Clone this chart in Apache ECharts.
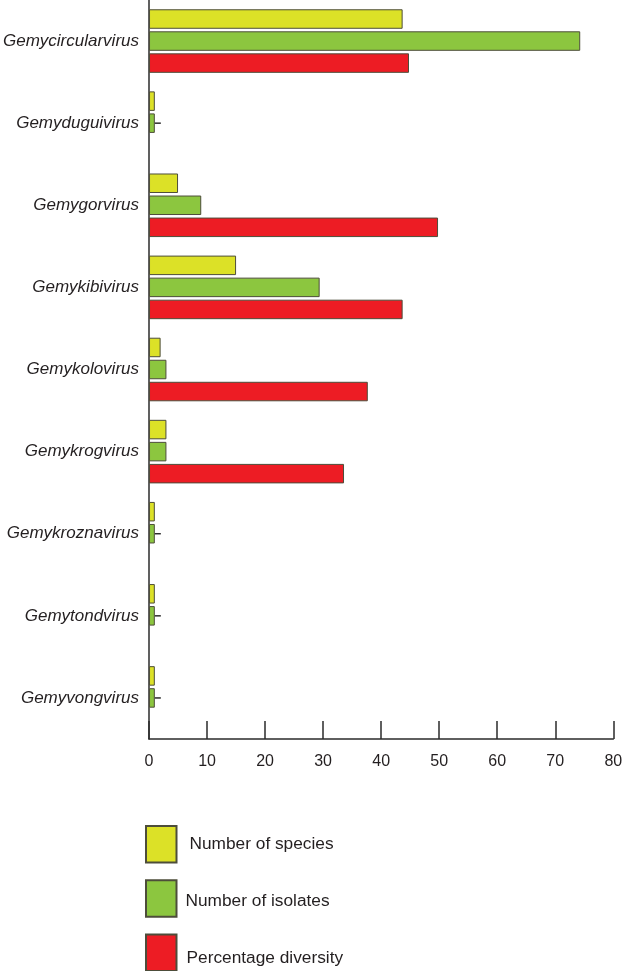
<!DOCTYPE html>
<html>
<head>
<meta charset="utf-8">
<script src="https://cdn.jsdelivr.net/npm/echarts@6/dist/echarts.min.js"></script>
<style>
html,body{margin:0;padding:0;background:#fff;}
#chart{width:631px;height:971px;}
</style>
</head>
<body>
<div id="chart"></div>
<script>
const categories = ['Gemycircularvirus','Gemyduguivirus','Gemygorvirus','Gemykibivirus','Gemykolovirus','Gemykrogvirus','Gemykroznavirus','Gemytondvirus','Gemyvongvirus'];
const numberOfSpecies = [43.7, 1, 5, 15, 2, 3, 1, 1, 1];
const numberOfIsolates = [74.3, 1, 9, 29.4, 3, 3, 1, 1, 1];
const percentageDiversity = [44.8, null, 49.8, 43.7, 37.7, 33.6, null, null, null];
const isolateDashCategories = ['Gemyduguivirus','Gemykroznavirus','Gemytondvirus','Gemyvongvirus'];
const seriesNames = ['Number of species', 'Number of isolates', 'Percentage diversity'];
const xTicks = [0, 10, 20, 30, 40, 50, 60, 70, 80];

const FONT = '"Liberation Sans", Arial, sans-serif';
const border = {borderColor: '#4d4d3a', borderWidth: 1};

const chart = echarts.init(document.getElementById('chart'), null, {renderer: 'canvas'});
const dashData = isolateDashCategories.map(c => [numberOfIsolates[categories.indexOf(c)], c]);

const legendTops = [825, 879.3, 933.5];
const legendTextPad = [[0, 0, 0, 8], [5, 0, 0, 4], [11, 0, 0, 5]];
const legends = seriesNames.map((n, i) => ({
  orient: 'vertical',
  left: 145,
  top: legendTops[i],
  padding: 0,
  itemWidth: 30.5,
  itemHeight: 36.5,
  icon: 'rect',
  selectedMode: false,
  data: [n],
  formatter: '{t|{name}}',
  textStyle: {
    fontFamily: FONT, fontSize: 17.3, color: '#231f20',
    rich: {t: {fontFamily: FONT, fontSize: 17.3, color: '#231f20', padding: legendTextPad[i]}}
  }
}));

chart.setOption({
  animation: false,
  backgroundColor: '#ffffff',
  grid: {left: 149, right: 17.7, top: 0, height: 739, containLabel: false},
  legend: legends,
  xAxis: {
    type: 'value',
    min: xTicks[0],
    max: xTicks[xTicks.length - 1],
    interval: 10,
    splitLine: {show: false},
    axisLine: {show: true, lineStyle: {color: '#2b2b2b', width: 1.5}},
    axisTick: {show: true, inside: true, length: 18, lineStyle: {color: '#2b2b2b', width: 1.5}},
    axisLabel: {fontFamily: FONT, fontSize: 16, color: '#231f20', margin: 15}
  },
  yAxis: {
    type: 'category',
    inverse: true,
    data: categories,
    axisLine: {show: true, lineStyle: {color: '#2b2b2b', width: 1.5}},
    axisTick: {show: false},
    axisLabel: {fontFamily: FONT, fontSize: 17, fontStyle: 'italic', color: '#231f20', margin: 10}
  },
  series: [
    {name: seriesNames[0], type: 'bar', data: numberOfSpecies, barWidth: 19.5, barGap: '13%',
     itemStyle: Object.assign({color: '#dce127'}, border)},
    {name: seriesNames[1], type: 'bar', data: numberOfIsolates, barWidth: 19.5, barGap: '13%',
     itemStyle: Object.assign({color: '#8cc63f'}, border)},
    {name: seriesNames[2], type: 'bar', data: percentageDiversity, barWidth: 19.5, barGap: '13%',
     itemStyle: Object.assign({color: '#ed1c24'}, border)},
    {name: 'dash', type: 'custom', data: dashData, silent: true, z: 5,
     renderItem: function (params, api) {
       const p = api.coord([api.value(0), api.value(1)]);
       return {type: 'line', shape: {x1: p[0], y1: p[1], x2: p[0] + 6, y2: p[1]},
               style: {stroke: '#2b2b2b', lineWidth: 1.5}};
     }}
  ]
});
</script>
</body>
</html>
